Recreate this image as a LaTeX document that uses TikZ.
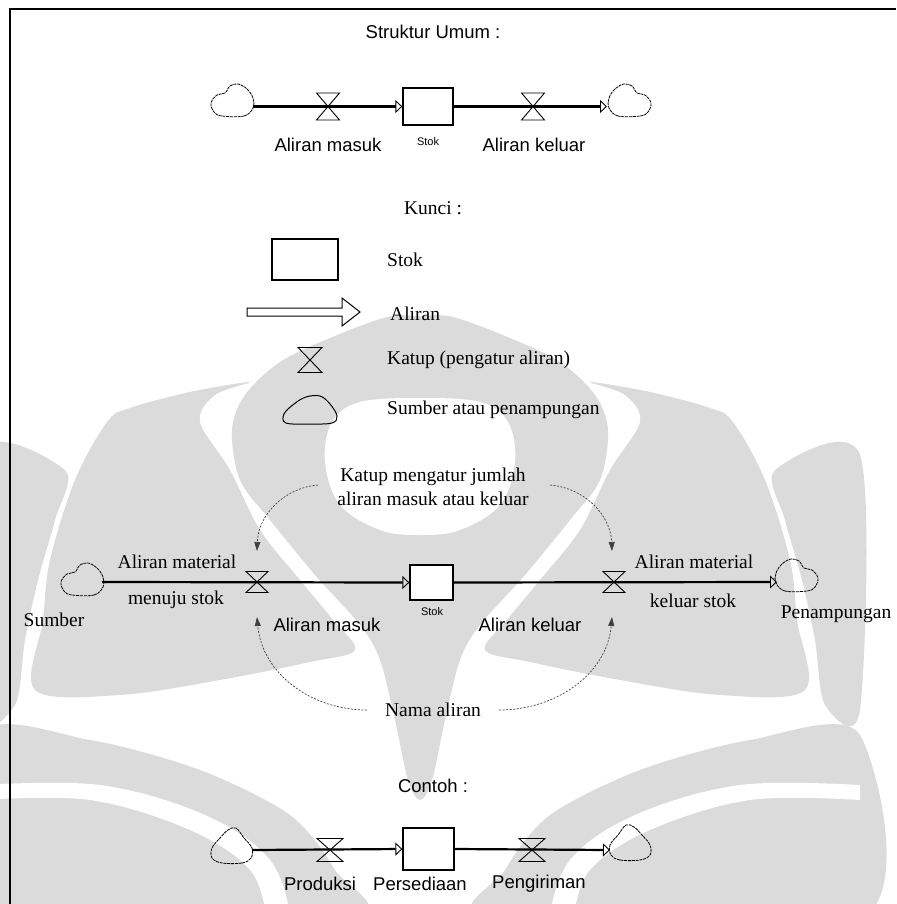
\documentclass[tikz,border=0pt]{standalone}
\usepackage{fontspec}
\setmainfont{Liberation Serif}
\newfontfamily\labsans{Liberation Sans}
\usetikzlibrary{arrows.meta}
\definecolor{markgray}{gray}{0.86}
\begin{document}
\begin{tikzpicture}[x=1pt,y=-1pt,
  serif/.style={inner sep=0pt, font=\fontsize{19.5}{24}\selectfont},
  sanslab/.style={inner sep=0pt, font=\labsans\fontsize{18.5}{22}\selectfont},
  tinylab/.style={inner sep=0pt, font=\labsans\fontsize{11}{13}\selectfont},
  stockbox/.style={draw, line width=1.3pt, inner sep=0pt, fill=white},
  pipe/.style={line width=2.2pt, -{Triangle[open,length=7pt,width=13pt,line width=0.9pt]}},
  pointer/.style={draw=black!75, line width=0.7pt, dash pattern=on 2pt off 1.5pt,
    -{Triangle[length=9pt,width=6pt]}},
  band/.style={fill=markgray, draw=none},
  gap/.style={fill=white, draw=none},
  cloudline/.style={line width=0.8pt, dash pattern=on 3pt off 0.8pt},
  pics/valve/.style n args={2}{code={
    \draw[line width=0.9pt] (-#1/2,-#2/2) -- (#1/2,-#2/2) -- (-#1/2,#2/2) -- (#1/2,#2/2) -- cycle;}},
  pics/cloudsrc/.style={code={
    \draw[cloudline] plot[smooth cycle, tension=0.6] coordinates
      {(-10,16) (12,16) (21,8) (21,-2) (15,-11) (6,-16) (-2,-14) (-7,-7) (-15,-5) (-21,3) (-18,12)};}},
  pics/cloudtall/.style={code={
    \draw[cloudline] plot[smooth cycle, tension=0.6] coordinates
      {(-10,17) (10,17) (19,12) (20,2) (12,-8) (4,-18) (-4,-16) (-12,-8) (-20,2) (-20,12)};}},
  pics/cloudkey/.style={code={
    \draw[line width=1pt] plot[smooth cycle, tension=0.6] coordinates
      {(-24,13) (-26,4) (-16,-6) (-4,-13) (10,-14) (20,-6) (27,6) (22,13) (0,14)};}}
]
\useasboundingbox (0,0) rectangle (896,904);

% ---------- faint emblem behind the drawing ----------
\begin{scope}
\clip (0,0) rectangle (896,904);
\begin{scope}[xshift=420pt]
  % central dome with its stem
  \fill[band] plot[smooth cycle, tension=0.55] coordinates
    {(0,316) (33,317) (90,338) (140,362) (175,395) (188,430) (180,480) (150,520) (105,575)
     (60,625) (40,660) (25,720) (12,780) (0,800) (-12,780) (-25,720) (-40,660) (-60,625)
     (-105,575) (-150,520) (-180,480) (-188,430) (-175,395) (-140,362) (-90,338) (-33,317)};
  \fill[gap] plot[smooth cycle, tension=0.6] coordinates
    {(0,398) (60,402) (88,422) (95,462) (80,505) (40,530) (0,535) (-40,530) (-80,505)
     (-95,462) (-88,422) (-60,402)};
  % side wings, drawn once per side
  \foreach \s in {1,-1}{
    \begin{scope}[xscale=\s]
      \fill[band] plot[smooth cycle, tension=0.55] coordinates
        {(-170,382) (-230,392) (-290,408) (-313,422) (-345,480) (-370,560) (-377,620)
         (-385,690) (-300,695) (-200,680) (-110,662) (-65,650) (-87,620) (-120,580)
         (-160,530) (-190,470) (-220,422) (-205,395)};
      \fill[band] plot[smooth cycle, tension=0.5] coordinates
        {(-440,455) (-355,470) (-365,520) (-382,580) (-395,640) (-405,705) (-440,710)};
      \fill[band] plot[smooth cycle, tension=0.5] coordinates
        {(-440,735) (-330,740) (-220,770) (-130,815) (-85,870) (-70,920) (-440,920)};
      \fill[gap] plot[smooth, tension=0.6] coordinates
        {(-440,800) (-330,800) (-230,830) (-170,870) (-150,920) (-130,920) (-150,860)
         (-215,815) (-320,785) (-440,785)};
    \end{scope}
  }
\end{scope}
\end{scope}

% frame
\draw[line width=1.6pt] (10,904) -- (10,9) -- (896,9);

% ---------- general structure ----------
\node[sanslab] (titleA) at (433,32) {Struktur Umum :};
\pic at (232,100) {cloudsrc};
\pic[xscale=-1] at (630,100) {cloudsrc};
\coordinate (srcA) at (253,106.5);
\coordinate (sinkA) at (607,106.5);
\node[stockbox, minimum width=50pt, minimum height=37pt] (stokA) at (428,106.5) {};
\draw[pipe] (srcA) -- (stokA.west);
\draw[pipe] (stokA.east) -- (sinkA);
\pic at (328,106.5) {valve={23}{27}};
\pic at (533,106.5) {valve={23}{27}};
\node[sanslab] (inA) at (328,145) {Aliran masuk};
\node[tinylab] (stA) at (428,142) {Stok};
\node[sanslab] (outA) at (534,145) {Aliran keluar};

% ---------- key ----------
\node[serif] (keyT) at (433,208) {Kunci :};
\node[draw, line width=1.2pt, minimum width=66pt, minimum height=41pt, inner sep=0pt, fill=white] (keyBox) at (305,259.5) {};
\node[serif, anchor=west] (keyBoxT) at (387,260) {Stok};
\draw[line width=1pt, line join=miter, fill=white] (247,308) -- (342,308) -- (342,298) -- (360,312)
  -- (342,326) -- (342,316) -- (247,316) -- cycle;
\node[serif, anchor=west] (keyFlowT) at (390,314) {Aliran};
\pic at (310,360) {valve={24}{25}};
\node[serif, anchor=west] (keyValveT) at (387,360) {Katup (pengatur aliran)};
\pic at (310,410) {cloudkey};
\node[serif, anchor=west] (keyCloudT) at (387,410) {Sumber atau penampungan};

% ---------- annotated structure ----------
\node[serif, align=center] (valveNote) at (433,487) {Katup mengatur jumlah\\aliran masuk atau keluar};
\pic at (82,579) {cloudsrc};
\pic[xscale=-1] at (797,575) {cloudsrc};
\coordinate (srcB) at (102,582);
\coordinate (sinkB) at (777,582);
\node[stockbox, minimum width=43pt, minimum height=35pt] (stokB) at (431.5,582.5) {};
\draw[pipe] (srcB) -- (stokB.west);
\draw[pipe] (stokB.east) -- (sinkB);
\pic at (257,582) {valve={22}{21}};
\pic at (614,582) {valve={22}{21}};
\coordinate (valveInTop) at (257,551);
\coordinate (valveOutTop) at (612,551);
\coordinate (valveInBot) at (257,617);
\coordinate (valveOutBot) at (612,617);
\draw[pointer] (318,485) to[out=185,in=88] (valveInTop);
\draw[pointer] (550,485) to[out=-5,in=92] (valveOutTop);

\node[serif] (matInA) at (177,562) {Aliran material};
\node[serif] (matInB) at (176,600) {menuju stok};
\node[serif] (matOutA) at (694,562) {Aliran material};
\node[serif] (matOutB) at (693,601) {keluar stok};
\node[serif] (srcLab) at (54,620) {Sumber};
\node[serif] (sinkLab) at (836,614) {Penampungan};
\node[tinylab] (stB) at (432,612) {Stok};
\node[sanslab] (inB) at (327,625) {Aliran masuk};
\node[sanslab] (outB) at (530,625) {Aliran keluar};

\node[serif] (flowName) at (433,710) {Nama aliran};
\draw[pointer] ([xshift=-18pt]flowName.west) to[out=180,in=-85] (valveInBot);
\draw[pointer] ([xshift=18pt]flowName.east) to[out=0,in=-95] (valveOutBot);

% ---------- example ----------
\node[sanslab] (exT) at (433,786) {Contoh :};
\pic at (232,846) {cloudtall};
\pic[xscale=-1] at (630,843) {cloudtall};
\coordinate (srcC) at (252,850);
\coordinate (sinkC) at (610,850);
\node[stockbox, minimum width=51pt, minimum height=42pt] (stokC) at (428.5,849) {};
\draw[pipe] (srcC) -- (stokC.west);
\draw[pipe] (stokC.east) -- (sinkC);
\pic at (330,850) {valve={26}{23}};
\pic at (532,850) {valve={26}{23}};
\node[sanslab] (prodT) at (320,884) {Produksi};
\node[sanslab] (invT) at (420,884) {Persediaan};
\node[sanslab] (shipT) at (539,884) {Pengiriman};
\end{tikzpicture}
\end{document}
